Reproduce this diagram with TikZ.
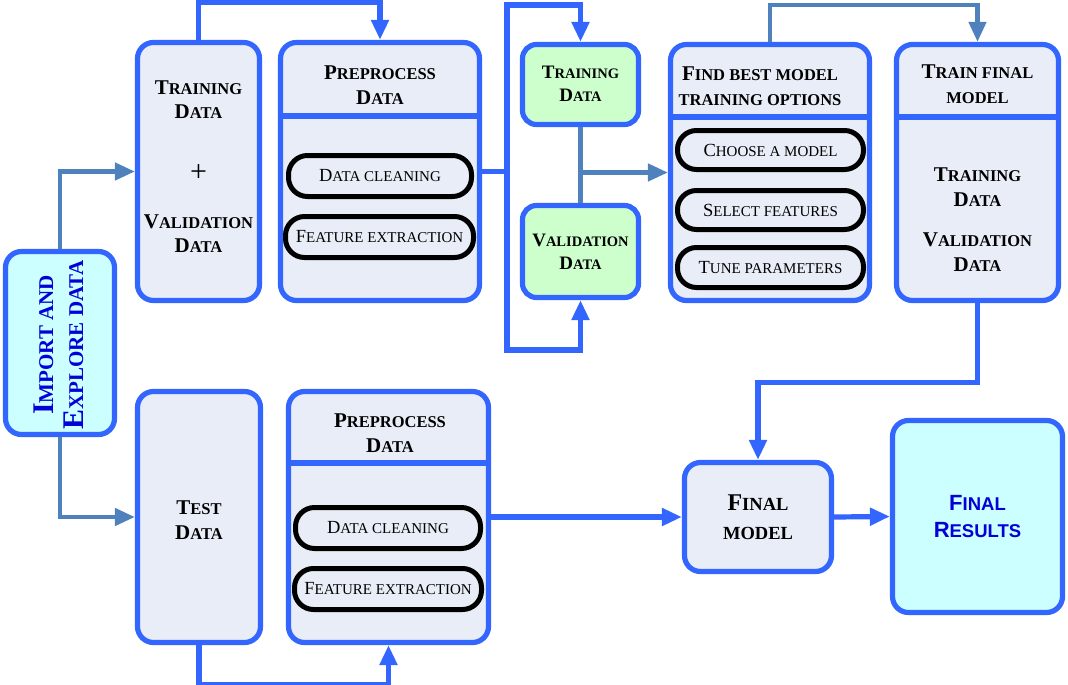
\documentclass[tikz,border=0pt]{standalone}
\usepackage{fontspec}
\setmainfont{Liberation Serif}
\newfontfamily\resfont{Liberation Sans}
\usetikzlibrary{arrows.meta, calc}
\definecolor{bblue}{RGB}{51,102,255}
\definecolor{sblue}{RGB}{79,129,189}
\definecolor{boxf}{RGB}{233,237,247}
\definecolor{grn}{RGB}{204,255,204}
\definecolor{cyn}{RGB}{204,255,255}
\definecolor{tblue}{RGB}{0,0,215}
% lower part of a hand-made small caps word
\newcommand{\lw}[2][16.5]{{\fontsize{#1}{#1}\selectfont #2}}
\tikzset{
  barr/.style={-{Triangle[length=20pt,width=17pt]}, line width=5.2pt, draw=bblue},
  bline/.style={line width=5.2pt, draw=bblue},
  sarr/.style={-{Triangle[length=20pt,width=17pt]}, line width=4.5pt, draw=sblue},
  sline/.style={line width=4.5pt, draw=sblue},
  blk/.style={draw=bblue, line width=5.2pt, rounded corners=16pt, fill=boxf, inner sep=0pt},
  pill/.style={draw=black, line width=5pt, rounded corners=19pt, fill=boxf, inner sep=0pt,
               font=\fontsize{18.5}{20}\selectfont},
  hdiv/.style={draw=bblue, line width=5.2pt},
  ttl/.style={font=\fontsize{21}{25}\selectfont\bfseries, align=center, inner sep=0pt}
}

\begin{document}
\begin{tikzpicture}[x=1pt, y=-1pt,
  gttl/.style={font=\fontsize{19}{22.5}\selectfont\bfseries, align=center, inner sep=0pt},
  fttl/.style={font=\fontsize{24}{29}\selectfont\bfseries, align=center, inner sep=0pt}]
\useasboundingbox (0,0) rectangle (1068,685);
% ---- boxes ----
\node[blk, fill=cyn, minimum width=109pt, minimum height=183pt] (imp) at (60,343) {};
\node[blk, minimum width=122pt, minimum height=258pt] (trv) at (198.5,171.5) {};
\node[blk, minimum width=199pt, minimum height=258pt] (pre1) at (380,171.5) {};
\node[blk, fill=grn, rounded corners=14pt, minimum width=116pt, minimum height=80pt] (trg) at (580.5,84.5) {};
\node[blk, fill=grn, rounded corners=14pt, minimum width=116pt, minimum height=92pt] (val) at (580.5,251.5) {};
\node[blk, minimum width=199pt, minimum height=256pt] (fnd) at (770,172.5) {};
\node[blk, minimum width=162pt, minimum height=256pt] (tfm) at (977.5,172.5) {};
\node[blk, minimum width=123pt, minimum height=251pt] (tst) at (199,517) {};
\node[blk, minimum width=200pt, minimum height=251pt] (pre2) at (388.5,517) {};
\node[blk, minimum width=147pt, minimum height=109pt] (fmd) at (758,517) {};
\node[blk, fill=cyn, minimum width=170pt, minimum height=192pt] (res) at (977.5,516.5) {};
% ---- header lines ----
\coordinate (d1) at (0,116);
\coordinate (d2) at (0,117);
\coordinate (d3) at (0,463);
\draw[hdiv] (pre1.west |- d1) -- (pre1.east |- d1);
\draw[hdiv] (fnd.west |- d2) -- (fnd.east |- d2);
\draw[hdiv] (tfm.west |- d2) -- (tfm.east |- d2);
\draw[hdiv] (pre2.west |- d3) -- (pre2.east |- d3);
% ---- pills ----
\node[pill, minimum width=183pt, minimum height=41pt] (dc1) at (380,176) {D\lw[15]{ATA CLEANING}};
\node[pill, minimum width=188pt, minimum height=41pt] (fe1) at (379.5,237) {F\lw[15]{EATURE EXTRACTION}};
\node[pill, minimum width=186pt, minimum height=39pt] (cm) at (770.5,150) {C\lw[15]{HOOSE A MODEL}};
\node[pill, minimum width=186pt, minimum height=39pt] (sf) at (770.5,210) {S\lw[15]{ELECT FEATURES}};
\node[pill, minimum width=186pt, minimum height=40pt] (tp) at (770.5,267.5) {T\lw[15]{UNE PARAMETERS}};
\node[pill, minimum width=185pt, minimum height=41pt] (dc2) at (388,528) {D\lw[15]{ATA CLEANING}};
\node[pill, minimum width=187pt, minimum height=41pt] (fe2) at (388,589) {F\lw[15]{EATURE EXTRACTION}};
% ---- texts ----
\node[ttl, rotate=90, text=tblue, font=\fontsize{30}{30}\selectfont\bfseries] (impt) at (58.5,345)
  {I\lw[21]{MPORT AND}\\E\lw[21]{XPLORE DATA}};
\node[ttl, font=\fontsize{21}{24}\selectfont\bfseries] (trvt) at (198.5,167)
  {T\lw{RAINING}\\D\lw{ATA}\\[39pt]{\fontsize{30}{30}\selectfont\mdseries +}\\[23pt]V\lw{ALIDATION}\\D\lw{ATA}};
\node[ttl] (pre1t) at (380,85.5) {P\lw{REPROCESS}\\D\lw{ATA}};
\node[gttl] (trgt) at (580.5,84) {T\lw[14.5]{RAINING}\\D\lw[14.5]{ATA}};
\node[gttl] (valt) at (580.5,252) {V\lw[14.5]{ALIDATION}\\D\lw[14.5]{ATA}};
\node[ttl] (fndt) at (760,86) {F\lw{IND BEST MODEL}\\\lw{TRAINING OPTIONS}};
\node[ttl] (tfmt) at (977.5,84.5) {T\lw{RAIN FINAL}\\\lw{MODEL}};
\node[ttl] (tfmb) at (977.5,220) {T\lw{RAINING}\\D\lw{ATA}\\[15pt]V\lw{ALIDATION}\\D\lw{ATA}};
\node[ttl] (tstt) at (199,520) {T\lw{EST}\\D\lw{ATA}};
\node[ttl] (pre2t) at (390,433) {P\lw{REPROCESS}\\D\lw{ATA}};
\node[fttl] (fmdt) at (758,517) {F\lw[18.5]{INAL}\\\lw[18.5]{MODEL}};
\node[ttl, text=tblue, font=\resfont\fontsize{22}{27}\selectfont\bfseries] (rest) at (977.5,516.5)
  {F\lw[18.5]{INAL}\\R\lw[18.5]{ESULTS}};
% ---- connectors ----
\coordinate (spt) at (507,5);
\coordinate (spb) at (507,350);
\draw[sarr] (imp.north) |- (trv.west);
\draw[sarr] (imp.south) |- (tst.west);
\draw[barr] (trv.north) -- ++(0,-37) -| (pre1.north);
\draw[bline] (pre1.east) -- (pre1.east -| spt);
\draw[barr] (spb) -- (spt) -| (trg.north);
\draw[barr] (spt) -- (spb) -| (val.south);
\draw[sline] (trg.south) -- (val.north);
\draw[sarr] (trg.south |- fnd.west) -- (fnd.west);
\draw[sarr] (fnd.north) -- ++(0,-37) -| (tfm.north);
\draw[barr] (tfm.south) -- ++(0,79) -| (fmd.north);
\draw[barr] (tst.south) -- ++(0,39) -| (pre2.south);
\draw[barr] (pre2.east) -- (fmd.west);
\draw[barr] (fmd.east) -- (res.west);
\end{tikzpicture}
\end{document}
